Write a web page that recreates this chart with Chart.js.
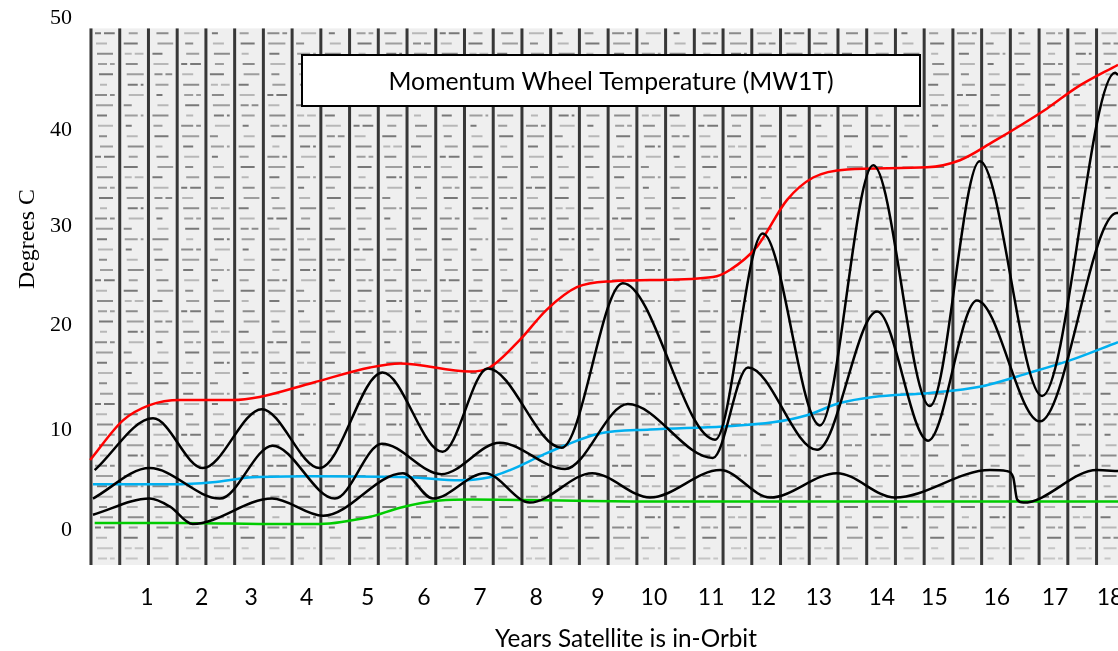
<!DOCTYPE html>
<html>
<head>
<meta charset="utf-8">
<script src="https://cdn.jsdelivr.net/npm/chart.js@4/dist/chart.umd.min.js"></script>
<style>
  html, body { margin: 0; padding: 0; background: #ffffff; }
  #wrap { width: 1118px; height: 651px; position: relative; }
</style>
</head>
<body>
<div id="wrap"><canvas id="chart"></canvas></div>
<script>
// ---------- text ----------
const chartTitle = 'Momentum Wheel Temperature (MW1T)';
const xAxisTitle = 'Years Satellite is in-Orbit';
const yAxisTitle = 'Degrees C';

// ---------- tick labels (positions in axis units, as placed on the reference) ----------
const xTickLabels = ['1','2','3','4','5','6','7','8','9','10','11','12','13','14','15','16','17','18'];
const xTickPos    = [1.00,1.97,2.84,3.82,4.90,5.89,6.88,7.87,8.96,9.95,10.96,11.87,12.86,13.97,14.90,16.00,17.03,18.00];
const yTickLabels = ['0','10','20','30','40','50'];
const yTickPos    = [0, 9.84, 20.18, 29.92, 39.37, 50.39];

// ---------- series (years in orbit, degrees C) ----------
const redYears  = [0,0.58,1.05,1.59,2.52,2.99,3.93,4.94,5.47,6.70,7.05,7.58,8.06,8.59,9.23,9.88,10.99,11.29,11.77,12.30,12.76,13.36,14.77,15.35,15.93,16.89,17.42,18.14];
const redTemps  = [6.9,10.8,12.3,12.8,12.8,13.1,14.5,16.0,16.4,15.6,16.0,18.7,21.7,23.9,24.5,24.6,24.9,25.6,27.9,32.5,34.7,35.5,35.7,36.4,38.2,41.5,43.6,45.8];

const blackAYears = [0.08,1.11,1.99,3.03,4.05,5.16,6.22,7.02,8.32,9.40,11.03,11.87,12.88,13.82,14.82,15.70,16.80,18.09,18.14];
const blackATemps = [5.9,11.0,6.1,11.9,6.1,15.5,7.7,15.9,8.1,24.3,8.9,29.2,10.3,35.9,12.2,36.3,13.2,45.0,44.8];

const blackBYears = [0.05,1.05,2.29,3.22,4.32,5.15,6.20,7.23,8.38,9.49,10.99,11.61,12.83,13.89,14.79,15.65,16.76,18.12,18.14];
const blackBTemps = [3.1,6.1,3.1,8.3,3.1,8.5,5.5,8.6,6.0,12.4,7.1,16.0,7.9,21.5,8.8,22.6,10.7,31.2,31.2];

const blackCYears = [0.05,1.05,1.41,1.81,3.21,4.11,5.52,6.05,6.97,7.76,8.86,9.88,11.12,12.00,13.18,14.20,15.88,16.18,16.29,16.36,16.47,17.77,18.14];
const blackCTemps = [1.5,3.1,2.3,0.6,3.1,1.4,5.6,3.1,5.6,2.7,5.6,3.2,5.9,3.2,5.6,3.2,5.9,5.8,5.2,3.0,2.7,5.9,5.8];

const blueYears = [0.05,1.46,2.16,2.87,3.93,5.64,6.52,7.05,7.41,7.99,8.41,8.99,9.88,11.17,12.05,12.65,13.23,13.82,14.82,15.70,16.59,17.29,18.14];
const blueTemps = [4.5,4.5,4.7,5.2,5.3,5.2,4.9,5.2,5.9,7.4,8.4,9.5,9.9,10.2,10.6,11.3,12.5,13.1,13.5,14.1,15.5,16.7,18.5];

const greenYears = [0.08,1.58,3.35,4.05,4.94,5.47,6.17,6.75,9.88,18.14];
const greenTemps = [0.7,0.7,0.6,0.6,1.3,2.2,2.9,3.0,2.8,2.8];

const toXY = (xs, ys) => xs.map((x, i) => ({ x: x, y: ys[i] }));

// ---------- strip-chart paper background ----------
const paperPlugin = {
  id: 'paper',
  beforeDatasetsDraw(chart) {
    const { ctx, chartArea: a, scales } = chart;
    const L = a.left, R = a.right, B = a.bottom;
    const T = scales.y.getPixelForValue(49.4);
    const colW = 28.73, x0 = L + 2;
    ctx.save();
    ctx.beginPath(); ctx.rect(L, T, R - L, B - T); ctx.clip();
    ctx.fillStyle = '#efefef';
    ctx.fillRect(L, T, R - L, B - T);
    // dashed horizontal marks
    let r = 0;
    for (let yy = T + 5; yy < B; yy += 10.3, r++) {
      const low = yy > 538;
      for (let c = 0; x0 + c * colW < R; c++) {
        const cl = x0 + c * colW;
        const k = (r * 7 + c * 11) % 6;
        const shade = (r * 3 + c * 5) % 4;
        ctx.strokeStyle = low ? 'rgba(70,70,70,0.25)' : ['rgba(40,40,40,0.6)','rgba(60,60,60,0.45)','rgba(40,40,40,0.5)','rgba(80,80,80,0.35)'][shade];
        ctx.lineWidth = 2;
        const len = 6 + ((r * 5 + c * 3) % 12);
        const a1 = cl + 4 + k;
        const a2 = Math.min(a1 + len, cl + colW - 4);
        ctx.beginPath(); ctx.moveTo(a1, yy); ctx.lineTo(a2, yy); ctx.stroke();
        if ((r + c) % 3 === 0 && a2 + 4 < cl + colW - 5) {
          ctx.beginPath(); ctx.moveTo(a2 + 3, yy); ctx.lineTo(cl + colW - 5, yy); ctx.stroke();
        }
      }
    }
    // vertical chart lines
    ctx.strokeStyle = 'rgba(30,30,30,0.88)';
    ctx.lineWidth = 3;
    for (let c = 0; ; c++) {
      const xx = x0 + c * colW;
      if (xx > R + 2) break;
      ctx.beginPath(); ctx.moveTo(xx, T); ctx.lineTo(xx, B); ctx.stroke();
    }
    ctx.restore();
  }
};

// ---------- title box and axis titles ----------
const textPlugin = {
  id: 'texts',
  afterDraw(chart) {
    const ctx = chart.ctx;
    ctx.save();
    // title box
    const bx = 302, by = 55, bw = 618, bh = 51;
    ctx.fillStyle = '#ffffff';
    ctx.fillRect(bx, by, bw, bh);
    ctx.strokeStyle = '#000000';
    ctx.lineWidth = 2;
    ctx.strokeRect(bx, by, bw, bh);
    ctx.fillStyle = '#000000';
    ctx.textAlign = 'center';
    ctx.textBaseline = 'alphabetic';
    let fs = 24;
    ctx.font = fs + 'px Lato';
    fs = fs * 445 / ctx.measureText(chartTitle).width;
    ctx.font = fs.toFixed(2) + 'px Lato';
    ctx.fillText(chartTitle, 611, 90);
    // x axis title
    let fx = 24;
    ctx.font = fx + 'px Lato';
    fx = fx * 262 / ctx.measureText(xAxisTitle).width;
    ctx.font = fx.toFixed(2) + 'px Lato';
    ctx.fillText(xAxisTitle, 626, 647);
    // y axis title
    let fy = 20;
    ctx.font = fy + 'px "Liberation Serif"';
    fy = fy * 100 / ctx.measureText(yAxisTitle).width;
    ctx.font = fy.toFixed(2) + 'px "Liberation Serif"';
    ctx.translate(34, 239);
    ctx.rotate(-Math.PI / 2);
    ctx.fillText(yAxisTitle, 0, 0);
    ctx.restore();
  }
};

new Chart(document.getElementById('chart'), {
  type: 'line',
  data: {
    datasets: [
      { label: 'Black A', data: toXY(blackAYears, blackATemps), borderColor: '#000000' },
      { label: 'Black B', data: toXY(blackBYears, blackBTemps), borderColor: '#000000' },
      { label: 'Black C', data: toXY(blackCYears, blackCTemps), borderColor: '#000000' },
      { label: 'Red',   data: toXY(redYears, redTemps),     borderColor: '#ff0000' },
      { label: 'Blue',  data: toXY(blueYears, blueTemps),   borderColor: '#00b0f0' },
      { label: 'Green', data: toXY(greenYears, greenTemps), borderColor: '#00cc00' }
    ]
  },
  options: {
    responsive: true,
    maintainAspectRatio: false,
    animation: false,
    layout: { padding: { top: 18, left: 0, right: 0, bottom: 0 } },
    plugins: { legend: { display: false }, tooltip: { enabled: false }, title: { display: false } },
    elements: {
      point: { radius: 0, hoverRadius: 0 },
      line: { borderWidth: 2.5, cubicInterpolationMode: 'monotone', fill: false }
    },
    scales: {
      x: {
        type: 'linear',
        min: -0.02,
        max: 18.14,
        grid: { display: false, drawTicks: false },
        border: { display: false },
        afterBuildTicks: s => { s.ticks = xTickPos.map(v => ({ value: v })); },
        ticks: {
          autoSkip: false, maxRotation: 0, minRotation: 0, padding: 19,
          color: '#000000', font: { family: 'Lato', size: 23 },
          callback: (v, i) => xTickLabels[i]
        },
        afterFit: s => { s.height = 86; s.paddingLeft = 0; s.paddingRight = 0; }
      },
      y: {
        type: 'linear',
        min: -3.44,
        max: 50.4,
        grid: { display: false, drawTicks: false },
        border: { display: false },
        afterBuildTicks: s => { s.ticks = yTickPos.map(v => ({ value: v })); },
        ticks: {
          padding: 17, color: '#000000',
          font: { family: '"Liberation Serif"', size: 22 },
          callback: (v, i) => yTickLabels[i]
        },
        afterFit: s => { s.width = 89; s.paddingTop = 0; s.paddingBottom = 0; }
      }
    }
  },
  plugins: [paperPlugin, textPlugin]
});
</script>
</body>
</html>
